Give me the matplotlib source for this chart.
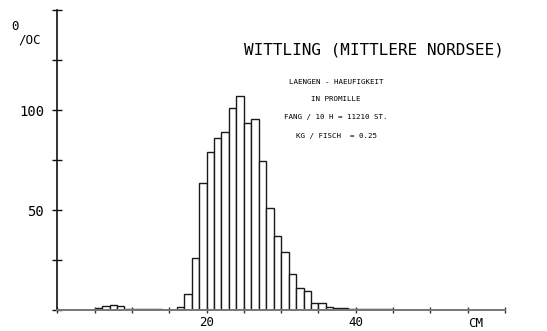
import matplotlib.pyplot as plt

plt.rcParams["font.family"] = ["DejaVu Sans Mono"]

# Laengen-Haeufigkeit (Promille) je 1-cm-Klasse, untere Klassengrenze in cm
length_cm = list(range(5, 45))
promille = [1.0, 2.0, 2.3, 2.0, 0.7, 0.3, 0.3, 0.3, 0.3, 0.0,
            0.0, 1.7, 8.0, 26.0, 63.5, 79.0, 86.0, 89.0, 101.0, 107.0,
            93.5, 95.5, 74.5, 51.0, 37.0, 29.0, 18.0, 11.0, 9.5, 3.5,
            3.5, 1.5, 1.0, 1.0, 0.4, 0.4, 0.4, 0.3, 0.3, 0.3]

x_ticks = list(range(0, 61, 5))
x_labels = {20: "20", 40: "40"}
y_ticks = list(range(0, 151, 25))
y_labels = {50: "50", 100: "100"}

title = "WITTLING (MITTLERE NORDSEE)"
info_lines = ["LAENGEN - HAEUFIGKEIT",
              "IN PROMILLE",
              "FANG / 10 H = 11210 ST.",
              "KG / FISCH  = 0.25"]

W, H = 547, 331
fig = plt.figure(figsize=(W / 100, H / 100), dpi=100)
ax = fig.add_axes([57.3 / W, 21 / H, (505 - 57.3) / W, 300 / H])

ax.bar(length_cm, promille, width=1.0, align="edge",
       facecolor="white", edgecolor="#1a1a1a", linewidth=1.0)

ax.set_xlim(0, 60)
ax.set_ylim(0, 150)

for side in ["top", "right"]:
    ax.spines[side].set_visible(False)
ax.spines["left"].set_color("#111111")
ax.spines["left"].set_linewidth(1.2)
ax.spines["bottom"].set_color("#777777")
ax.spines["bottom"].set_linewidth(1.4)

ax.set_xticks(x_ticks)
ax.set_xticklabels([x_labels.get(t, "") for t in x_ticks])
ax.set_yticks(y_ticks)
ax.set_yticklabels([y_labels.get(t, "") for t in y_ticks])
ax.tick_params(axis="x", direction="inout", length=5, width=1,
               color="#333333", pad=1.5, labelsize=9)
ax.tick_params(axis="y", direction="inout", length=7, width=1,
               color="#111111", pad=6, labelsize=10)

ax.text(56, -0.022, "CM", transform=ax.get_xaxis_transform(),
        ha="center", va="top", fontsize=9)

# Einheit Promille oben links
fig.text(15 / W, 1 - 27 / H, "0", ha="center", va="center", fontsize=9)
fig.text(18 / W, 1 - 40 / H, "/OC", ha="left", va="center", fontsize=9)

fig.text(374 / W, 1 - 50 / H, title, ha="center", va="center", fontsize=11.5)
line_y = [82, 99, 117, 136]
for txt, y in zip(info_lines, line_y):
    fig.text(336 / W, 1 - y / H, txt, ha="center", va="center", fontsize=5.4)

fig.savefig("out.png", dpi=100)
